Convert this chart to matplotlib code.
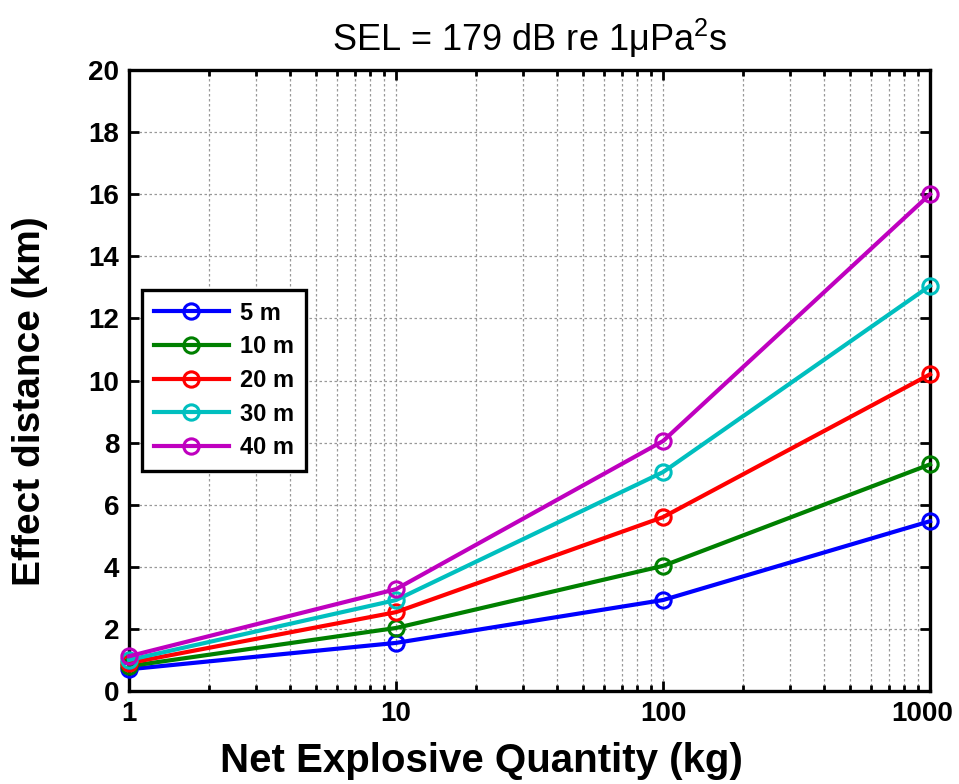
import matplotlib
matplotlib.use('Agg')
import matplotlib.pyplot as plt
from matplotlib.ticker import FixedLocator, LogLocator, NullFormatter
from matplotlib.transforms import ScaledTranslation

plt.rcParams['font.family'] = ['Liberation Sans', 'DejaVu Sans']
plt.rcParams['mathtext.fontset'] = 'custom'
plt.rcParams['mathtext.rm'] = 'Liberation Sans'
plt.rcParams['mathtext.default'] = 'regular'

# Net explosive quantity (kg)
neq = [1, 10, 100, 1000]

# Effect distance (km) per charge depth
depth_labels = ['5 m', '10 m', '20 m', '30 m', '40 m']
dist_5m = [0.70, 1.55, 2.93, 5.47]
dist_10m = [0.80, 2.03, 4.03, 7.30]
dist_20m = [0.90, 2.54, 5.60, 10.20]
dist_30m = [1.00, 2.93, 7.05, 13.05]
dist_40m = [1.12, 3.28, 8.05, 16.00]

series = [dist_5m, dist_10m, dist_20m, dist_30m, dist_40m]
colors = ['#0000ff', '#008000', '#ff0000', '#00bfbf', '#bf00bf']

fig = plt.figure(figsize=(9.59, 7.84), dpi=100)
ax = fig.add_axes([0.1345, 0.1186, 0.8353, 0.7921])

for vals, lab, c in zip(series, depth_labels, colors):
    ax.plot(neq, vals, '-o', color=c, lw=3, ms=11, mew=2.2,
            mfc='none', label=lab, clip_on=False, zorder=3)

ax.set_xscale('log')
ax.set_xlim(1, 1000)
ax.set_ylim(0, 20)
ax.xaxis.set_major_locator(FixedLocator(neq))
ax.set_xticklabels(['1', '10', '100', '1000'])
ax.xaxis.set_minor_locator(LogLocator(base=10, subs=range(2, 10)))
ax.xaxis.set_minor_formatter(NullFormatter())
ax.set_yticks(range(0, 21, 2))

ax.grid(True, which='major', axis='both', color='#999999', ls=(0, (2, 2)), lw=0.9)
ax.grid(True, which='minor', axis='x', color='#999999', ls=(0, (2, 2)), lw=0.9)

for s in ax.spines.values():
    s.set_linewidth(2.4)
ax.tick_params(which='both', direction='in', top=True, right=True, width=2)
ax.tick_params(which='major', length=7, labelsize=20, pad=7)
ax.tick_params(which='minor', length=4)
for t in ax.get_xticklabels() + ax.get_yticklabels():
    t.set_fontweight('bold')

# keep "1000" inside the figure edge
last = ax.get_xticklabels()[-1]
last.set_transform(last.get_transform() + ScaledTranslation(-6 / 72, 0, fig.dpi_scale_trans))

ax.set_title('SEL = 179 dB re 1μPa$^{2}$s', fontsize=26, pad=14)
ax.set_xlabel('Net Explosive Quantity (kg)', fontsize=29, fontweight='bold')
ax.set_ylabel('Effect distance (km)', fontsize=28, fontweight='bold')
ax.xaxis.set_label_coords(0.44, -0.082)
ax.yaxis.set_label_coords(-0.101, 0.467)

leg = ax.legend(loc='upper left', bbox_to_anchor=(0.016, 0.646), borderaxespad=0,
                fancybox=False, edgecolor='black', framealpha=1,
                prop={'size': 17, 'weight': 'bold'}, handlelength=3.2,
                labelspacing=0.45, borderpad=0.5, handletextpad=0.45)
leg.get_frame().set_linewidth(2.4)

fig.savefig('out.png', dpi=100)
